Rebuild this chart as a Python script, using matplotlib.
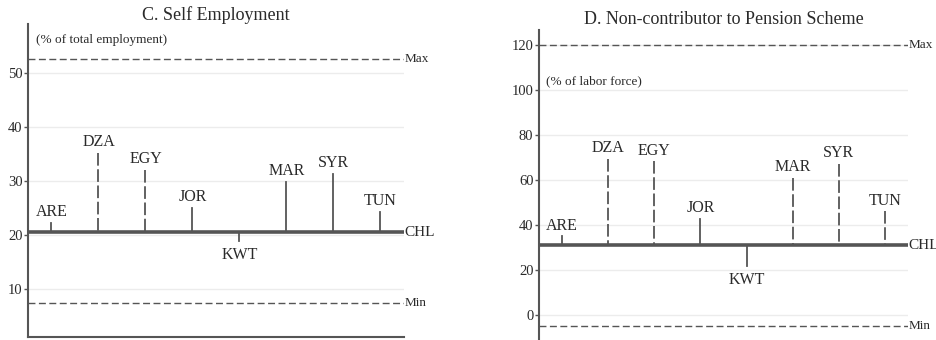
import matplotlib
matplotlib.use("Agg")
import matplotlib.pyplot as plt

countries = ["ARE", "DZA", "EGY", "JOR", "KWT", "MAR", "SYR", "TUN"]

# Panel C: Self employment (% of total employment)
self_emp = [22.3, 35.3, 32.1, 25.0, 18.9, 29.9, 31.4, 24.4]
self_emp_chl = 20.6
self_emp_max = 52.6
self_emp_min = 7.5
self_emp_ticks = [10, 20, 30, 40, 50]

# Panel D: Non-contributor to pension scheme (% of labor force)
pension = [35.1, 69.5, 68.4, 43.0, 21.8, 61.0, 67.4, 46.2]
pension_chl = 31.1
pension_max = 120.0
pension_min = -4.9
pension_ticks = [0, 20, 40, 60, 80, 100, 120]

plt.rcParams['font.family'] = ['Liberation Serif', 'DejaVu Serif']

W, H = 937, 340
fig = plt.figure(figsize=(W / 100, H / 100), dpi=100)

txt = "#2a2a2a"
lc = "#555555"


def panel(rect, vals, chl, vmax, vmin, ticks, ylim, title, unit, unit_y, dashed, title_y):
    ax = fig.add_axes(rect)
    x = list(range(1, len(vals) + 1))
    ax.set_xlim(0.5, len(vals) + 0.5)
    ax.set_ylim(*ylim)
    for t in ticks:
        ax.axhline(t, color="#ececec", lw=1.0, zorder=0)
    ax.axhline(vmax, color=lc, lw=1.0, ls=(0, (5, 2.5)), zorder=1)
    ax.axhline(vmin, color=lc, lw=1.0, ls=(0, (5, 2.5)), zorder=1)
    ax.axhline(chl, color=lc, lw=2.6, zorder=2)
    for xi, v, c, d in zip(x, vals, countries, dashed):
        ls = (0, (7, 2)) if d else "-"
        ax.plot([xi, xi], [v, chl], color=lc, lw=1.3, ls=ls, zorder=3)
        if v >= chl:
            ax.annotate(c, (xi, v), xytext=(0, 2), textcoords="offset points",
                        ha="center", va="bottom", fontsize=11.5, color=txt)
        else:
            ax.annotate(c, (xi, v), xytext=(0, -4), textcoords="offset points",
                        ha="center", va="top", fontsize=11.5, color=txt)
    ax.annotate("Max", (1, vmax), xycoords=("axes fraction", "data"), xytext=(0.5, 0),
                textcoords="offset points", ha="left", va="center", fontsize=9.5, color=txt)
    ax.annotate("Min", (1, vmin), xycoords=("axes fraction", "data"), xytext=(0.5, 0),
                textcoords="offset points", ha="left", va="center", fontsize=9.5, color=txt)
    ax.annotate("CHL", (1, chl), xycoords=("axes fraction", "data"), xytext=(0, 0),
                textcoords="offset points", ha="left", va="center", fontsize=11, color=txt)
    ax.text(0.02, unit_y, unit, transform=ax.get_yaxis_transform(), ha="left", va="center",
            fontsize=9.5, color=txt)
    ax.set_yticks(ticks)
    ax.set_yticklabels([str(t) for t in ticks])
    ax.tick_params(axis="y", length=3, width=1, color=lc, labelcolor=txt, labelsize=10.5, pad=1)
    ax.set_xticks([])
    for s in ["top", "right"]:
        ax.spines[s].set_visible(False)
    ax.spines["left"].set_color(lc)
    ax.spines["left"].set_linewidth(1.5)
    ax.spines["bottom"].set_color(lc)
    ax.spines["bottom"].set_linewidth(1.5)
    ax.patch.set_alpha(0)
    cx = rect[0] + rect[2] / 2
    fig.text(cx, title_y, title, ha="center", va="center", fontsize=13, color=txt)
    return ax


panel([28 / W, 3.3 / H, 376 / W, 313 / H], self_emp, self_emp_chl, self_emp_max, self_emp_min,
      self_emp_ticks, (1.2, 59.2), "C. Self Employment", "(% of total employment)", 56.2,
      [False, True, True, False, False, False, False, False], 1 - 15 / H)

panel([539 / W, -3 / H, 369 / W, 313 / H], pension, pension_chl, pension_max, pension_min,
      pension_ticks, (-12.3, 126.8), "D. Non-contributor to Pension Scheme", "(% of labor force)", 103.9,
      [False, True, True, False, False, True, True, True], 1 - 20 / H)

fig.savefig("out.png", dpi=100, facecolor="white")
